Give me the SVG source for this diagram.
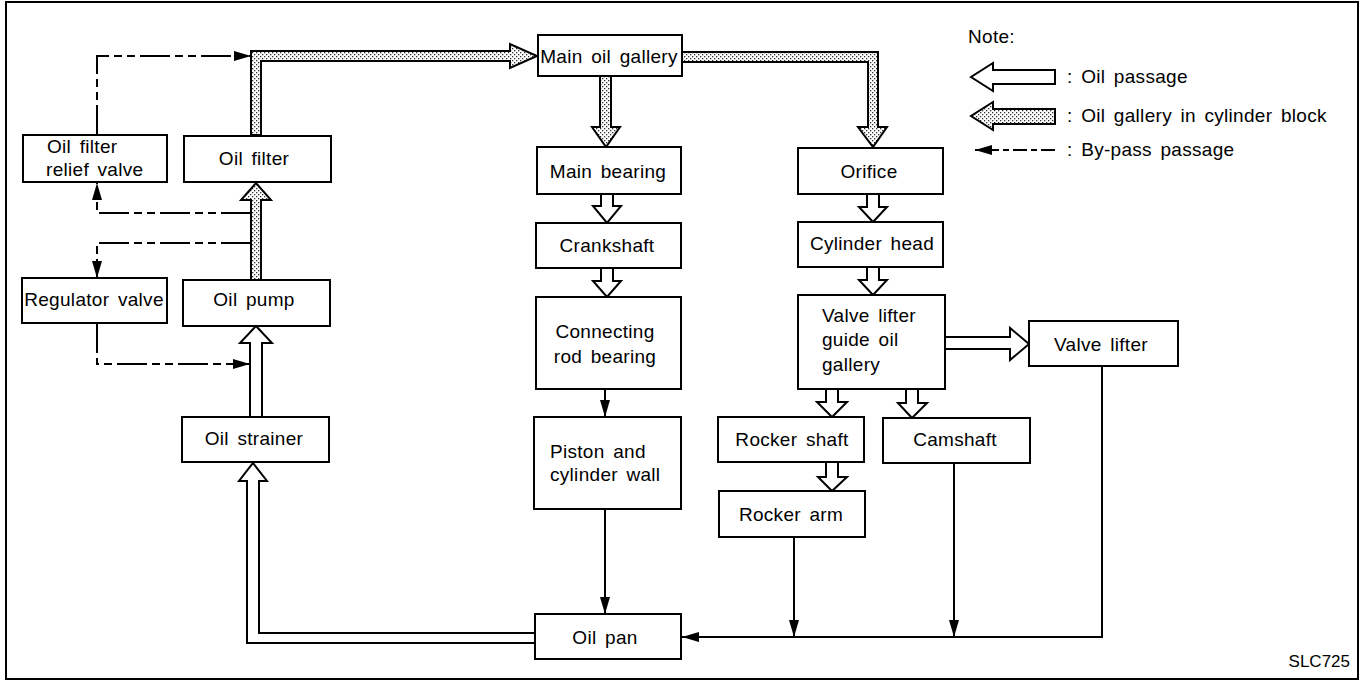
<svg xmlns="http://www.w3.org/2000/svg" width="1365" height="681" viewBox="0 0 1365 681">
<style>
.box{fill:#fff;stroke:#000;stroke-width:2}
.t{font-family:"Liberation Sans",Arial,sans-serif;font-size:19px;fill:#000;letter-spacing:0.3px;word-spacing:3px}
.c{text-anchor:middle}
.wa{fill:#fff;stroke:#000;stroke-width:2;stroke-linejoin:miter}
.ga{fill:url(#stip);stroke:#000;stroke-width:2;stroke-linejoin:miter}
.ln{fill:none;stroke:#000;stroke-width:2}
.dash{fill:none;stroke:#000;stroke-width:2;stroke-dasharray:30 5 8 5 8 5}
</style>
<defs>
<pattern id="stip" width="4" height="4" patternUnits="userSpaceOnUse">
<rect width="4" height="4" fill="#fff"/>
<rect x="0" y="0" width="1.3" height="1.3" fill="#333"/>
<rect x="2" y="2" width="1.3" height="1.3" fill="#333"/>
</pattern>
<marker id="ah" viewBox="0 0 17 10" refX="17" refY="5" markerWidth="17" markerHeight="10" markerUnits="userSpaceOnUse" orient="auto">
<path d="M0,0 L17,5 L0,10 z" fill="#000"/>
</marker>
</defs>

<rect x="6" y="2" width="1352" height="677" fill="none" stroke="#000" stroke-width="2"/>

<g id="connectors">
<polygon class="ga" points="251,280 251,200 241,200 256,183 271,200 261,200 261,280"/>
<polygon class="ga" points="251,135 251,51 510,51 510,44 537,56 510,68 510,61 261,61 261,135"/>
<polygon class="ga" points="600,76 600,127 592,127 606,147 620,127 611,127 611,76"/>
<polygon class="ga" points="682,52 878,52 878,127 887,127 873,147 858,127 868,127 868,62 682,62"/>
<polygon class="wa" points="601,194 601,206 593,206 607,223 621,206 613,206 613,194"/>
<polygon class="wa" points="601,268 601,281 593,281 607,297 621,281 613,281 613,268"/>
<polygon class="wa" points="867,194 867,207 859,207 873,222 887,207 879,207 879,194"/>
<polygon class="wa" points="867,267 867,280 859,280 873,295 887,280 879,280 879,267"/>
<polygon class="wa" points="826,389 826,402 817,402 832,417 847,402 838,402 838,389"/>
<polygon class="wa" points="906,389 906,403 898,403 912,418 927,403 918,403 918,389"/>
<polygon class="wa" points="826,462 826,477 818,477 832,491 847,477 838,477 838,462"/>
<polygon class="wa" points="945,337 1010,337 1010,328 1029,344 1010,360 1010,349 945,349"/>
<polygon class="wa" points="250,417 250,343 240,343 256,326 272,343 262,343 262,417"/>
<polygon class="wa" points="535,633 259,633 259,481 267,481 253,463 239,481 247,481 247,643 535,643"/>
<line class="ln" x1="605" y1="389" x2="605" y2="417" marker-end="url(#ah)"/>
<line class="ln" x1="605" y1="509" x2="605" y2="614" marker-end="url(#ah)"/>
<line class="ln" x1="794" y1="537" x2="794" y2="637" marker-end="url(#ah)"/>
<line class="ln" x1="954" y1="463" x2="954" y2="637" marker-end="url(#ah)"/>
<polyline class="ln" points="1102,366 1102,637 682,637" marker-end="url(#ah)"/>
<polyline class="dash" points="251,213 97,213 97,183" marker-end="url(#ah)"/>
<polyline class="dash" points="97,135 97,56 251,56" marker-end="url(#ah)"/>
<polyline class="dash" points="251,243 97,243 97,278" marker-end="url(#ah)"/>
<polyline class="dash" points="97,323 97,364 250,364" marker-end="url(#ah)"/>
</g>

<g id="n-relief"><rect class="box" x="23" y="135" width="144" height="47"/><text class="t" x="47" y="153">Oil filter</text><text class="t" x="46" y="176">relief valve</text></g>
<g id="n-filter"><rect class="box" x="184" y="136" width="147" height="46"/><text class="t c" x="254" y="165">Oil filter</text></g>
<g id="n-regulator"><rect class="box" x="22" y="278" width="145" height="45"/><text class="t c" x="94" y="306">Regulator valve</text></g>
<g id="n-pump"><rect class="box" x="183" y="280" width="147" height="46"/><text class="t c" x="254" y="306">Oil pump</text></g>
<g id="n-strainer"><rect class="box" x="182" y="417" width="147" height="45"/><text class="t c" x="254" y="445">Oil strainer</text></g>
<g id="n-gallery"><rect class="box" x="538" y="35" width="144" height="41"/><text class="t c" x="609" y="63">Main oil gallery</text></g>
<g id="n-mainbearing"><rect class="box" x="537" y="147" width="144" height="47"/><text class="t c" x="608" y="178">Main bearing</text></g>
<g id="n-crank"><rect class="box" x="536" y="223" width="145" height="45"/><text class="t c" x="607" y="252">Crankshaft</text></g>
<g id="n-conrod"><rect class="box" x="536" y="297" width="145" height="92"/><text class="t c" x="605" y="338">Connecting</text><text class="t c" x="605" y="363">rod bearing</text></g>
<g id="n-piston"><rect class="box" x="534" y="417" width="147" height="92"/><text class="t" x="550" y="458">Piston and</text><text class="t" x="550" y="481">cylinder wall</text></g>
<g id="n-oilpan"><rect class="box" x="535" y="614" width="146" height="45"/><text class="t c" x="605" y="644">Oil pan</text></g>
<g id="n-orifice"><rect class="box" x="798" y="148" width="145" height="46"/><text class="t c" x="869" y="178">Orifice</text></g>
<g id="n-cylhead"><rect class="box" x="798" y="222" width="145" height="45"/><text class="t c" x="872" y="250">Cylinder head</text></g>
<g id="n-vlg"><rect class="box" x="798" y="295" width="147" height="94"/><text class="t" x="822" y="322">Valve lifter</text><text class="t" x="822" y="346">guide oil</text><text class="t" x="822" y="371">gallery</text></g>
<g id="n-valvelifter"><rect class="box" x="1029" y="321" width="149" height="45"/><text class="t c" x="1101" y="351">Valve lifter</text></g>
<g id="n-rockershaft"><rect class="box" x="718" y="417" width="146" height="45"/><text class="t c" x="792" y="446">Rocker shaft</text></g>
<g id="n-camshaft"><rect class="box" x="883" y="418" width="147" height="45"/><text class="t c" x="955" y="446">Camshaft</text></g>
<g id="n-rockerarm"><rect class="box" x="719" y="491" width="146" height="46"/><text class="t c" x="791" y="521">Rocker arm</text></g>

<g id="legend">
<text class="t" x="968" y="43">Note:</text>
<polygon class="wa" points="1055,70 993,70 993,63 971,77 993,91 993,84 1055,84"/>
<text class="t" x="1067" y="83">: Oil passage</text>
<polygon class="ga" points="1055,109 993,109 993,102 971,116 993,130 993,124 1055,124"/>
<text class="t" x="1067" y="122">: Oil gallery in cylinder block</text>
<line class="dash" x1="1055" y1="150" x2="975" y2="150" marker-end="url(#ah)" style="stroke-dasharray:14 4 6 4"/>
<text class="t" x="1067" y="156">: By-pass passage</text>
</g>
<text class="t" x="1350" y="667" style="font-size:17px;text-anchor:end;letter-spacing:0;word-spacing:0">SLC725</text>
</svg>
